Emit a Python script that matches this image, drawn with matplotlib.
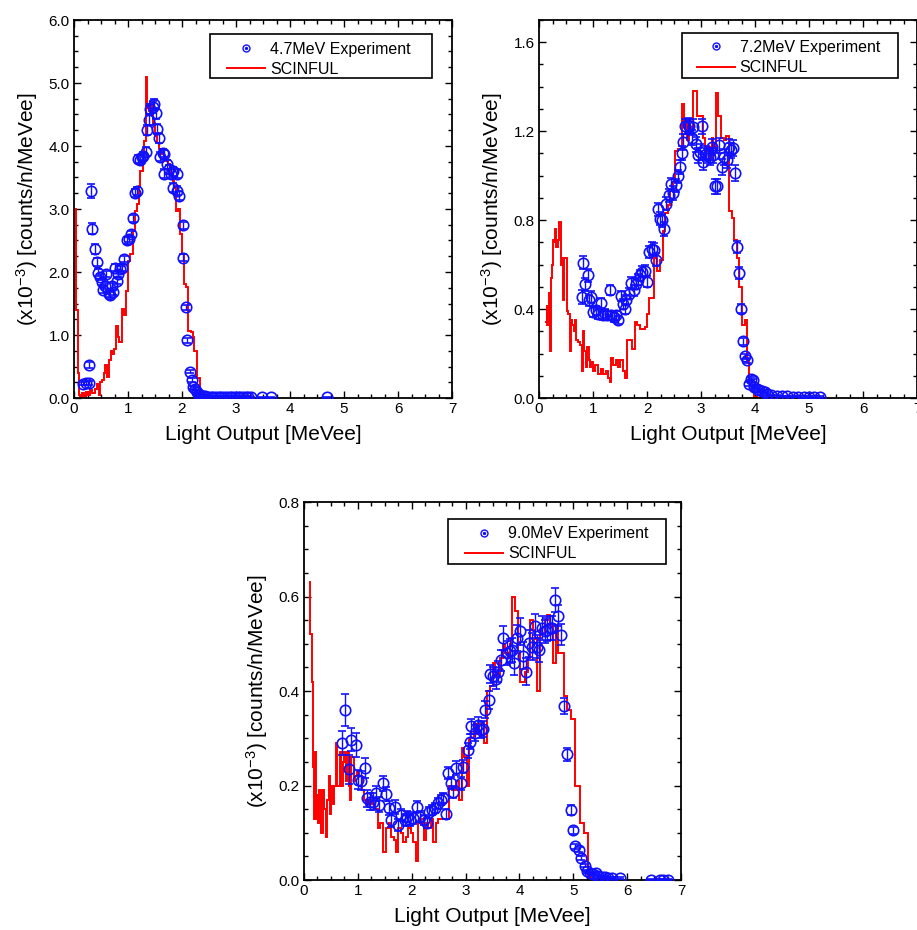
import matplotlib
matplotlib.use("Agg")
import matplotlib.pyplot as plt
from matplotlib.ticker import MultipleLocator, FormatStrFormatter
from matplotlib.lines import Line2D
from matplotlib.patches import Rectangle
from matplotlib.legend_handler import HandlerTuple

plt.rcParams['font.family'] = ['Liberation Sans', 'DejaVu Sans']
plt.rcParams['mathtext.fontset'] = 'custom'
plt.rcParams['mathtext.rm'] = 'Liberation Sans'
plt.rcParams['mathtext.it'] = 'Liberation Sans:italic'
plt.rcParams['mathtext.bf'] = 'Liberation Sans:bold'

BLUE = '#1010ff'
RED = '#ff0000'

# ---------------- 4.7 MeV ----------------
tl_label = "4.7MeV Experiment"
tl_x = [0.17, 0.22, 0.27, 0.28, 0.31, 0.34, 0.38, 0.42, 0.45, 0.48,
        0.51, 0.54, 0.57, 0.60, 0.64, 0.67, 0.70, 0.73, 0.76, 0.79,
        0.82, 0.85, 0.88, 0.93, 0.98, 1.02, 1.06, 1.10, 1.13, 1.17,
        1.19, 1.22, 1.25, 1.28, 1.33, 1.35, 1.38, 1.41, 1.46, 1.49,
        1.52, 1.54, 1.57, 1.59, 1.64, 1.67, 1.67, 1.72, 1.76, 1.80,
        1.84, 1.90, 1.83, 1.90, 1.95, 2.01, 2.02, 2.07, 2.10, 2.15,
        2.18, 2.21, 2.24, 2.27, 2.30, 2.33,
        2.38, 2.43, 2.48, 2.53, 2.58, 2.63, 2.68, 2.73, 2.78, 2.83,
        2.88, 2.93, 2.98, 3.03, 3.08, 3.13, 3.18, 3.23, 3.28,
        3.49, 3.64, 4.68]
tl_y = [0.23, 0.24, 0.24, 0.52, 3.28, 2.69, 2.36, 2.16, 1.99, 1.92,
        1.84, 1.72, 1.78, 1.97, 1.65, 1.63, 1.77, 1.68, 2.07, 1.86,
        1.97, 2.05, 2.07, 2.21, 2.50, 2.52, 2.60, 2.85, 3.25, 3.29,
        3.79, 3.77, 3.82, 3.84, 3.91, 4.26, 4.42, 4.58, 4.62, 4.66,
        4.52, 4.27, 4.12, 3.83, 3.89, 3.87, 3.56, 3.71, 3.63, 3.56,
        3.60, 3.56, 3.34, 3.29, 3.21, 2.74, 2.23, 1.44, 0.92, 0.42,
        0.28, 0.17, 0.15, 0.10, 0.07, 0.04,
        0.03, 0.03, 0.02, 0.02, 0.02, 0.02, 0.02, 0.02, 0.02, 0.02,
        0.02, 0.02, 0.02, 0.02, 0.02, 0.02, 0.02, 0.01, 0.01,
        0.01, 0.01, 0.01]
tl_err = [0.03, 0.03, 0.03, 0.05, 0.11, 0.09, 0.08, 0.06, 0.05, 0.05,
          0.05, 0.05, 0.05, 0.05, 0.05, 0.05, 0.05, 0.05, 0.05, 0.05,
          0.05, 0.05, 0.05, 0.05, 0.05, 0.05, 0.05, 0.05, 0.06, 0.06,
          0.06, 0.06, 0.06, 0.06, 0.07, 0.08, 0.08, 0.08, 0.09, 0.09,
          0.09, 0.08, 0.08, 0.07, 0.07, 0.07, 0.07, 0.07, 0.07, 0.07,
          0.07, 0.07, 0.07, 0.07, 0.07, 0.06, 0.05, 0.04, 0.04, 0.03,
          0.03, 0.02, 0.02, 0.02, 0.02, 0.02,
          0.01, 0.01, 0.01, 0.01, 0.01, 0.01, 0.01, 0.01, 0.01, 0.01,
          0.01, 0.01, 0.01, 0.01, 0.01, 0.01, 0.01, 0.01, 0.01,
          0.01, 0.01, 0.01]
tl_edges = [0.0, 0.045, 0.065, 0.09, 0.12, 0.14, 0.18, 0.22, 0.26, 0.30,
            0.34, 0.38, 0.42, 0.46, 0.49, 0.52, 0.55, 0.58, 0.62, 0.65,
            0.68, 0.71, 0.74, 0.78, 0.81, 0.84, 0.88, 0.92, 0.96, 1.00,
            1.04, 1.09, 1.13, 1.16, 1.20, 1.23, 1.27, 1.30, 1.33, 1.36,
            1.39, 1.42, 1.46, 1.50, 1.54, 1.57, 1.61, 1.66, 1.70, 1.74,
            1.77, 1.80, 1.83, 1.86, 1.89, 1.93, 1.97, 2.00, 2.04, 2.08,
            2.12, 2.16, 2.20, 2.23, 2.27, 2.33, 2.38, 2.45]
tl_sim = [3.00, 1.40, 0.40, 0.05, 0.00, 0.08, 0.02, 0.10, 0.05, 0.12,
          0.08, 0.15, 0.22, 0.05, 0.25, 0.28, 0.39, 0.52, 0.33, 0.60,
          0.75, 0.70, 0.78, 1.15, 0.97, 0.89, 1.41, 1.31, 1.70, 2.18,
          2.28, 2.65, 2.97, 3.08, 3.37, 3.60, 3.82, 4.08, 5.10, 4.61,
          4.55, 4.63, 4.37, 4.16, 4.05, 3.95, 3.87, 3.82, 3.76, 3.71,
          3.66, 3.55, 3.45, 3.34, 2.97, 3.00, 2.60, 2.28, 1.81, 1.76,
          1.07, 1.04, 0.97, 0.75, 0.31, 0.02, 0.00]

# ---------------- 7.2 MeV ----------------
tr_label = "7.2MeV Experiment"
tr_x = [0.79, 0.82, 0.86, 0.90, 0.93, 0.97, 1.00, 1.05, 1.10, 1.15,
        1.18, 1.22, 1.26, 1.31, 1.34, 1.39, 1.42, 1.47, 1.51, 1.55,
        1.59, 1.62, 1.66, 1.70, 1.75, 1.79, 1.83, 1.87, 1.91, 1.96,
        2.00, 2.04, 2.09, 2.13, 2.17, 2.21, 2.24, 2.28, 2.32, 2.36,
        2.41, 2.44, 2.49, 2.53, 2.57, 2.61, 2.64, 2.67, 2.70, 2.75,
        2.78, 2.83, 2.86, 2.90, 2.94, 2.98, 3.01, 3.04, 3.09, 3.13,
        3.17, 3.20, 3.23, 3.26, 3.30, 3.34, 3.38, 3.43, 3.48, 3.52,
        3.56, 3.60, 3.63, 3.66, 3.71, 3.74, 3.77, 3.81, 3.85, 3.88,
        3.92, 3.96, 3.99, 4.03, 4.08, 4.13, 4.18, 4.22,
        4.30, 4.40, 4.50, 4.60, 4.70, 4.80, 4.90, 5.00, 5.10, 5.20]
tr_y = [0.454, 0.609, 0.511, 0.552, 0.439, 0.454, 0.387, 0.394, 0.379, 0.427,
        0.372, 0.379, 0.372, 0.487, 0.372, 0.364, 0.372, 0.349, 0.457, 0.424,
        0.402, 0.439, 0.469, 0.517, 0.484, 0.514, 0.532, 0.552, 0.567, 0.571,
        0.522, 0.657, 0.672, 0.667, 0.622, 0.849, 0.807, 0.799, 0.760, 0.874,
        0.912, 0.961, 0.922, 0.957, 0.997, 1.039, 1.102, 1.151, 1.222, 1.226,
        1.222, 1.171, 1.219, 1.141, 1.091, 1.106, 1.222, 1.061, 1.099, 1.091,
        1.084, 1.129, 1.091, 0.952, 0.952, 1.136, 1.039, 1.084, 1.069, 1.129,
        1.114, 1.124, 1.012, 0.679, 0.562, 0.402, 0.255, 0.187, 0.169, 0.064,
        0.087, 0.079, 0.049, 0.042, 0.034, 0.031, 0.027, 0.019,
        0.012, 0.010, 0.008, 0.008, 0.006, 0.006, 0.005, 0.005, 0.004, 0.004]
tr_err = [0.030, 0.030, 0.030, 0.030, 0.025, 0.025, 0.022, 0.022, 0.022, 0.022,
          0.020, 0.020, 0.020, 0.022, 0.020, 0.020, 0.020, 0.018, 0.022, 0.022,
          0.022, 0.022, 0.025, 0.025, 0.025, 0.025, 0.025, 0.025, 0.025, 0.025,
          0.025, 0.028, 0.028, 0.028, 0.028, 0.030, 0.030, 0.030, 0.030, 0.030,
          0.030, 0.030, 0.030, 0.030, 0.030, 0.032, 0.032, 0.035, 0.035, 0.035,
          0.035, 0.035, 0.035, 0.035, 0.035, 0.035, 0.035, 0.035, 0.035, 0.035,
          0.035, 0.035, 0.035, 0.035, 0.035, 0.035, 0.035, 0.035, 0.035, 0.035,
          0.035, 0.035, 0.035, 0.028, 0.025, 0.020, 0.015, 0.012, 0.012, 0.008,
          0.008, 0.008, 0.006, 0.006, 0.005, 0.005, 0.004, 0.004,
          0.003, 0.003, 0.003, 0.003, 0.003, 0.003, 0.003, 0.003, 0.003, 0.003]
tr_edges = [0.12, 0.14, 0.15, 0.18, 0.20, 0.22, 0.24, 0.26, 0.28, 0.30,
            0.32, 0.35, 0.37, 0.40, 0.42, 0.45, 0.47, 0.50, 0.52, 0.54,
            0.57, 0.59, 0.62, 0.64, 0.67, 0.69, 0.72, 0.75, 0.79, 0.82,
            0.84, 0.87, 0.89, 0.92, 0.94, 0.97, 1.00, 1.03, 1.06, 1.10,
            1.14, 1.19, 1.24, 1.28, 1.31, 1.34, 1.37, 1.42, 1.47, 1.50,
            1.55, 1.59, 1.63, 1.68, 1.73, 1.78, 1.82, 1.87, 1.91, 1.96,
            2.00, 2.04, 2.09, 2.13, 2.18, 2.24, 2.29, 2.33, 2.38, 2.43,
            2.48, 2.52, 2.58, 2.64, 2.69, 2.74, 2.78, 2.83, 2.86, 2.92,
            2.98, 3.03, 3.08, 3.11, 3.16, 3.20, 3.23, 3.27, 3.32, 3.37,
            3.42, 3.47, 3.52, 3.57, 3.61, 3.66, 3.71, 3.76, 3.81, 3.85,
            3.89, 3.94, 3.99, 4.04, 4.50]
tr_sim = [0.34, 0.42, 0.33, 0.47, 0.21, 0.54, 0.60, 0.71, 0.70, 0.76,
          0.68, 0.71, 0.79, 0.60, 0.63, 0.44, 0.63, 0.63, 0.39, 0.38,
          0.21, 0.35, 0.33, 0.30, 0.35, 0.26, 0.25, 0.24, 0.12, 0.30,
          0.21, 0.14, 0.23, 0.17, 0.14, 0.16, 0.12, 0.15, 0.15, 0.11,
          0.13, 0.11, 0.12, 0.09, 0.07, 0.18, 0.15, 0.17, 0.14, 0.17,
          0.12, 0.09, 0.26, 0.26, 0.22, 0.34, 0.33, 0.31, 0.31, 0.32,
          0.38, 0.45, 0.45, 0.63, 0.57, 0.62, 0.75, 0.83, 0.87, 0.93,
          0.97, 1.11, 1.12, 1.32, 1.25, 1.16, 1.20, 1.22, 1.38, 1.27,
          1.27, 1.17, 1.11, 1.13, 1.08, 1.17, 1.10, 1.37, 1.27, 1.17,
          1.16, 1.18, 0.84, 0.81, 0.71, 0.63, 0.50, 0.33, 0.35, 0.17,
          0.08, 0.03, 0.005, 0.00]

# ---------------- 9.0 MeV ----------------
b_label = "9.0MeV Experiment"
b_x = [0.70, 0.77, 0.84, 0.88, 0.96, 1.00, 1.05, 1.13, 1.17, 1.23,
       1.29, 1.34, 1.40, 1.47, 1.52, 1.57, 1.62, 1.69, 1.75, 1.81,
       1.88, 1.92, 1.97, 2.03, 2.09, 2.15, 2.22, 2.28, 2.33, 2.38,
       2.43, 2.49, 2.54, 2.59, 2.63, 2.68, 2.73, 2.77, 2.83, 2.91,
       2.96, 3.04, 3.08, 3.11, 3.17, 3.24, 3.28, 3.33, 3.36, 3.43,
       3.45, 3.51, 3.56, 3.61, 3.66, 3.70, 3.77, 3.82, 3.87, 3.90,
       3.95, 4.01, 4.07, 4.13, 4.18, 4.23, 4.29, 4.32, 4.37, 4.41,
       4.47, 4.52, 4.57, 4.61, 4.66, 4.71, 4.78, 4.83, 4.89, 4.95,
       5.00, 5.04, 5.10, 5.15, 5.21, 5.26, 5.31, 5.37, 5.42, 5.46,
       5.53, 5.59, 5.65, 5.71, 5.87, 6.45, 6.61, 6.67, 6.75]
b_y = [0.290, 0.360, 0.234, 0.297, 0.286, 0.212, 0.210, 0.237, 0.173, 0.166,
       0.166, 0.184, 0.159, 0.205, 0.182, 0.152, 0.127, 0.155, 0.117, 0.138,
       0.127, 0.134, 0.127, 0.131, 0.155, 0.134, 0.127, 0.120, 0.143, 0.148,
       0.152, 0.162, 0.169, 0.173, 0.140, 0.226, 0.205, 0.187, 0.237, 0.205,
       0.240, 0.275, 0.293, 0.325, 0.311, 0.328, 0.318, 0.319, 0.360, 0.381,
       0.436, 0.431, 0.425, 0.441, 0.465, 0.512, 0.480, 0.484, 0.487, 0.459,
       0.512, 0.526, 0.475, 0.441, 0.501, 0.494, 0.537, 0.494, 0.487, 0.533,
       0.526, 0.530, 0.533, 0.533, 0.593, 0.559, 0.519, 0.369, 0.266, 0.148,
       0.105, 0.071, 0.064, 0.046, 0.030, 0.018, 0.014, 0.013, 0.014, 0.008,
       0.007, 0.006, 0.005, 0.004, 0.004, 0.001, 0.001, 0.001, 0.001]
b_err = [0.025, 0.034, 0.030, 0.025, 0.025, 0.020, 0.020, 0.022, 0.018, 0.018,
         0.018, 0.016, 0.016, 0.016, 0.015, 0.015, 0.014, 0.015, 0.013, 0.013,
         0.012, 0.012, 0.012, 0.012, 0.012, 0.011, 0.011, 0.011, 0.011, 0.011,
         0.011, 0.011, 0.011, 0.011, 0.011, 0.013, 0.013, 0.013, 0.014, 0.014,
         0.014, 0.016, 0.016, 0.016, 0.016, 0.017, 0.017, 0.017, 0.018, 0.020,
         0.020, 0.020, 0.020, 0.022, 0.022, 0.025, 0.025, 0.025, 0.025, 0.025,
         0.028, 0.028, 0.028, 0.028, 0.028, 0.028, 0.025, 0.025, 0.025, 0.025,
         0.025, 0.025, 0.025, 0.025, 0.025, 0.022, 0.022, 0.017, 0.014, 0.010,
         0.008, 0.006, 0.005, 0.004, 0.003, 0.003, 0.002, 0.002, 0.002, 0.002,
         0.002, 0.002, 0.002, 0.002, 0.002, 0.001, 0.001, 0.001, 0.001]
b_edges = [0.10, 0.12, 0.14, 0.16, 0.18, 0.20, 0.22, 0.24, 0.26, 0.28,
           0.31, 0.33, 0.36, 0.38, 0.41, 0.43, 0.46, 0.48, 0.51, 0.53,
           0.56, 0.59, 0.62, 0.66, 0.69, 0.72, 0.75, 0.78, 0.80, 0.84,
           0.86, 0.88, 0.92, 0.95, 0.98, 1.03, 1.07, 1.11, 1.16, 1.21,
           1.26, 1.32, 1.38, 1.42, 1.47, 1.52, 1.57, 1.62, 1.67, 1.71,
           1.75, 1.80, 1.84, 1.89, 1.94, 1.98, 2.03, 2.08, 2.12, 2.17,
           2.22, 2.26, 2.31, 2.35, 2.40, 2.45, 2.49, 2.54, 2.60, 2.65,
           2.70, 2.74, 2.78, 2.83, 2.88, 2.93, 2.97, 3.02, 3.07, 3.11,
           3.16, 3.21, 3.25, 3.30, 3.35, 3.40, 3.45, 3.50, 3.55, 3.59,
           3.64, 3.69, 3.73, 3.78, 3.82, 3.87, 3.92, 3.97, 4.01, 4.06,
           4.11, 4.15, 4.20, 4.25, 4.29, 4.33, 4.38, 4.42, 4.47, 4.52,
           4.57, 4.62, 4.67, 4.72, 4.78, 4.83, 4.89, 4.95, 5.00, 5.04,
           5.13, 5.20, 5.27, 5.32, 5.60]
b_sim = [0.63, 0.52, 0.42, 0.24, 0.13, 0.27, 0.13, 0.18, 0.12, 0.19,
         0.10, 0.10, 0.19, 0.15, 0.09, 0.17, 0.22, 0.14, 0.20, 0.16,
         0.20, 0.29, 0.20, 0.27, 0.20, 0.25, 0.27, 0.21, 0.27, 0.20,
         0.17, 0.26, 0.21, 0.22, 0.23, 0.22, 0.19, 0.17, 0.16, 0.17,
         0.16, 0.15, 0.11, 0.12, 0.06, 0.11, 0.12, 0.09, 0.085, 0.06,
         0.11, 0.10, 0.08, 0.09, 0.11, 0.10, 0.08, 0.04, 0.12, 0.13,
         0.085, 0.12, 0.11, 0.13, 0.08, 0.12, 0.13, 0.13, 0.13, 0.13,
         0.20, 0.19, 0.19, 0.21, 0.17, 0.28, 0.26, 0.20, 0.30, 0.30,
         0.33, 0.31, 0.33, 0.33, 0.29, 0.40, 0.41, 0.46, 0.44, 0.43,
         0.47, 0.50, 0.48, 0.47, 0.50, 0.60, 0.57, 0.48, 0.42, 0.42,
         0.44, 0.47, 0.55, 0.53, 0.51, 0.40, 0.53, 0.52, 0.55, 0.56,
         0.54, 0.46, 0.54, 0.48, 0.48, 0.39, 0.36, 0.34, 0.34, 0.20,
         0.12, 0.10, 0.01, 0.00]

sim_label = "SCINFUL"
xlabel = "Light Output [MeVee]"
ylabel = "(x10$^{-3}$) [counts/n/MeVee]"

W, H = 917, 930
fig = plt.figure(figsize=(W / 100, H / 100), dpi=100)

panels = [
    dict(rect=(74, 20, 452, 398), x=tl_x, y=tl_y, e=tl_err, edges=tl_edges, sim=tl_sim,
         lab=tl_label, ymax=6.0, ymaj=1.0, ymin=0.25,
         box=(0.360, 0.847, 0.947, 0.963), anchor=(0.405, 0.943)),
    dict(rect=(539, 20, 917, 398), x=tr_x, y=tr_y, e=tr_err, edges=tr_edges, sim=tr_sim,
         lab=tr_label, ymax=1.7, ymaj=0.4, ymin=0.1,
         box=(0.3775, 0.8458, 0.9505, 0.9648), anchor=(0.417, 0.947)),
    dict(rect=(304, 502, 681, 880), x=b_x, y=b_y, e=b_err, edges=b_edges, sim=b_sim,
         lab=b_label, ymax=0.8, ymaj=0.2, ymin=0.05,
         box=(0.3828, 0.836, 0.960, 0.9542), anchor=(0.427, 0.936)),
]

for p in panels:
    l, t, r, b = p['rect']
    ax = fig.add_axes([l / W, 1 - b / H, (r - l) / W, (b - t) / H])
    ax.stairs(p['sim'], p['edges'], baseline=None, color=RED, lw=1.4, zorder=2)
    ax.errorbar(p['x'], p['y'], yerr=p['e'], fmt='o', ms=7.5, mfc='none', mec=BLUE, mew=1.2,
                ecolor=BLUE, elinewidth=1.0, capsize=3, capthick=1.0, zorder=3)
    ax.set_xlim(0, 7)
    ax.set_ylim(0, p['ymax'])
    ax.xaxis.set_major_locator(MultipleLocator(1))
    ax.xaxis.set_minor_locator(MultipleLocator(0.25))
    ax.yaxis.set_major_locator(MultipleLocator(p['ymaj']))
    ax.yaxis.set_minor_locator(MultipleLocator(p['ymin']))
    ax.yaxis.set_major_formatter(FormatStrFormatter('%.1f'))
    ax.tick_params(which='both', direction='in', top=True, right=True, width=1.0,
                   labelsize=11, pad=3)
    ax.tick_params(which='major', length=5)
    ax.tick_params(which='minor', length=3)
    for s in ax.spines.values():
        s.set_linewidth(1.3)
    ax.set_xlabel(xlabel, fontsize=15, labelpad=6)
    ax.set_ylabel(ylabel, fontsize=15, labelpad=6)

    bx0, by0, bx1, by1 = p['box']
    ax.add_patch(Rectangle((bx0, by0), bx1 - bx0, by1 - by0, transform=ax.transAxes,
                           fill=True, facecolor='white', edgecolor='black', lw=1.2,
                           zorder=5, clip_on=False))
    h_circ = Line2D([], [], marker='o', ls='', ms=5.0, mfc='none', mec=BLUE, mew=1.0)
    h_dot = Line2D([], [], marker='o', ls='', ms=1.4, mfc=BLUE, mec=BLUE)
    h_line = Line2D([], [], color=RED, lw=1.4)
    leg = ax.legend([(h_circ, h_dot), h_line], [p['lab'], sim_label],
                    handler_map={tuple: HandlerTuple(ndivide=1)},
                    loc='upper left', bbox_to_anchor=p['anchor'], borderaxespad=0,
                    fontsize=11.5, frameon=False, handlelength=2.4,
                    handletextpad=0.3, borderpad=0, labelspacing=0.32)
    leg.set_zorder(6)

fig.savefig("out.png", dpi=100)
